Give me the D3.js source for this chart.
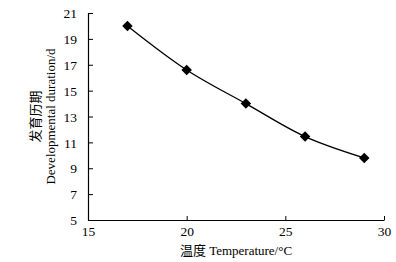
<!DOCTYPE html>
<html>
<head>
<meta charset="utf-8">
<script src="https://cdn.jsdelivr.net/npm/d3@7"></script>
<style>
  body { margin: 0; background: #fff; }
  svg text { font-family: "Liberation Serif", "Noto Sans CJK SC", serif; fill: #000; }
</style>
</head>
<body>
<svg id="chart" width="396" height="262"></svg>
<script>
// temperature (°C) and developmental duration (d)
const temps = [17, 20, 23, 26, 29];
const durations = [20.0, 16.6, 14.0, 11.45, 9.8];
const xTicks = [15, 20, 25, 30];
const yTicks = [5, 7, 9, 11, 13, 15, 17, 19, 21];

const svg = d3.select('#chart');

const margin = {left: 88, right: 12, top: 13, bottom: 42};
const width = 396, height = 262;

let x = d3.scaleLinear()
    .domain([15, 30])
    .range([margin.left, width - margin.right]);

let y = d3.scaleLinear()
    .domain([5, 21])
    .range([height - margin.bottom, margin.top]);

// axes, ticks point inward
let xAxis = d3.axisBottom(x).tickValues(xTicks).tickSizeInner(-4).tickSizeOuter(0).tickPadding(6);
let yAxis = d3.axisLeft(y).tickValues(yTicks).tickSizeInner(-5).tickSizeOuter(0).tickPadding(11);

let gx = svg.append('g')
    .attr('transform', `translate(0, ${y(5)})`)
    .call(xAxis);

let gy = svg.append('g')
    .attr('transform', `translate(${x(15)}, 0)`)
    .call(yAxis);

[gx, gy].forEach(g => {
    g.selectAll('.domain').attr('stroke', '#000').attr('stroke-width', 1.2);
    g.selectAll('.tick line').attr('stroke', '#000');
    g.selectAll('.tick text')
        .style('font-size', '13.5px')
        .attr('fill', '#000');
});
gy.selectAll('.tick text').attr('dy', '0.35em');

// smooth curve through points
let pts = temps.map((t, i) => [t, durations[i]]);
let line = d3.line()
    .x(d => x(d[0]))
    .y(d => y(d[1]))
    .curve(d3.curveCatmullRom.alpha(0.5));

svg.append('path')
    .datum(pts)
    .attr('d', line)
    .attr('fill', 'none')
    .attr('stroke', '#000')
    .attr('stroke-width', 1.3);

// diamond markers
svg.selectAll('.pt')
    .data(pts)
    .join('path')
        .attr('class', 'pt')
        .attr('d', d3.symbol().type(d3.symbolSquare).size(55))
        .attr('transform', d => `translate(${x(d[0])}, ${y(d[1])}) rotate(45)`)
        .attr('fill', '#000');

// axis titles
svg.append('text')
    .attr('x', (x(15) + x(30)) / 2)
    .attr('y', 255)
    .attr('text-anchor', 'middle')
    .style('font-size', '13px')
    .text('温度 Temperature/°C');

let yMid = (y(5) + y(21)) / 2;
let ylab = svg.append('text')
    .attr('transform', `translate(0, ${yMid}) rotate(-90)`)
    .attr('text-anchor', 'middle')
    .style('font-size', '13px');
ylab.append('tspan').attr('x', 0).attr('y', 40).text('发育历期');
ylab.append('tspan').attr('x', 0).attr('y', 55).text('Developmental duration/d');
</script>
</body>
</html>
